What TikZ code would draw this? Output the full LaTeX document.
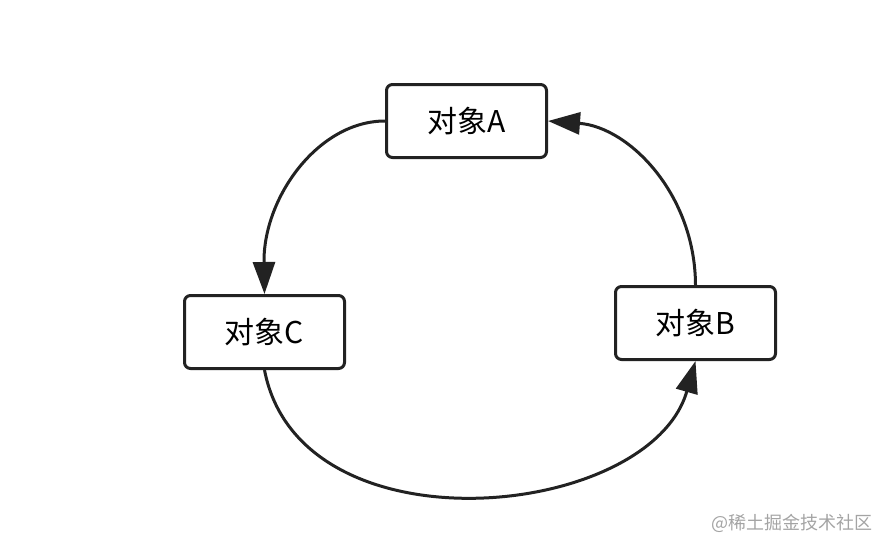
\documentclass[tikz,border=0pt]{standalone}
\usepackage{fontspec}
\setmainfont{Noto Sans CJK SC}
\usetikzlibrary{arrows.meta}
\definecolor{linegray}{HTML}{222222}
\definecolor{markgray}{HTML}{A4A4A4}
\begin{document}
\begin{tikzpicture}[x=1pt,y=-1pt]
	\tikzstyle{objbox}=[draw=linegray, line width=3pt, rounded corners=6pt, fill=white,
		minimum width=160pt, minimum height=73pt, inner sep=0pt, font=\fontsize{30}{36}\selectfont]
	\tikzstyle{flow}=[draw=linegray, line width=3pt,
		-{Triangle[length=32pt,width=22pt]}]
	\useasboundingbox (0,0) rectangle (894,550);
	% the three objects
	\node [objbox] (objA) at (466.5,121) {对象A};
	\node [objbox] (objB) at (695.5,323) {对象B};
	\node [objbox] (objC) at (264.5,332) {对象C};
	% the loop between them
	\draw [flow] (objA.west) .. controls (318,121) and (263,198) .. (objC.north);
	\draw [flow] (objC.south) .. controls (300,555) and (650,520) .. (objB.south);
	\draw [flow] (objB.north) .. controls (695,194) and (629,127) .. (objA.east);
	% watermark
	\node [text=markgray, font=\fontsize{18}{22}\selectfont, anchor=east] (mark) at (876,523) {@稀土掘金技术社区};
\end{tikzpicture}
\end{document}
